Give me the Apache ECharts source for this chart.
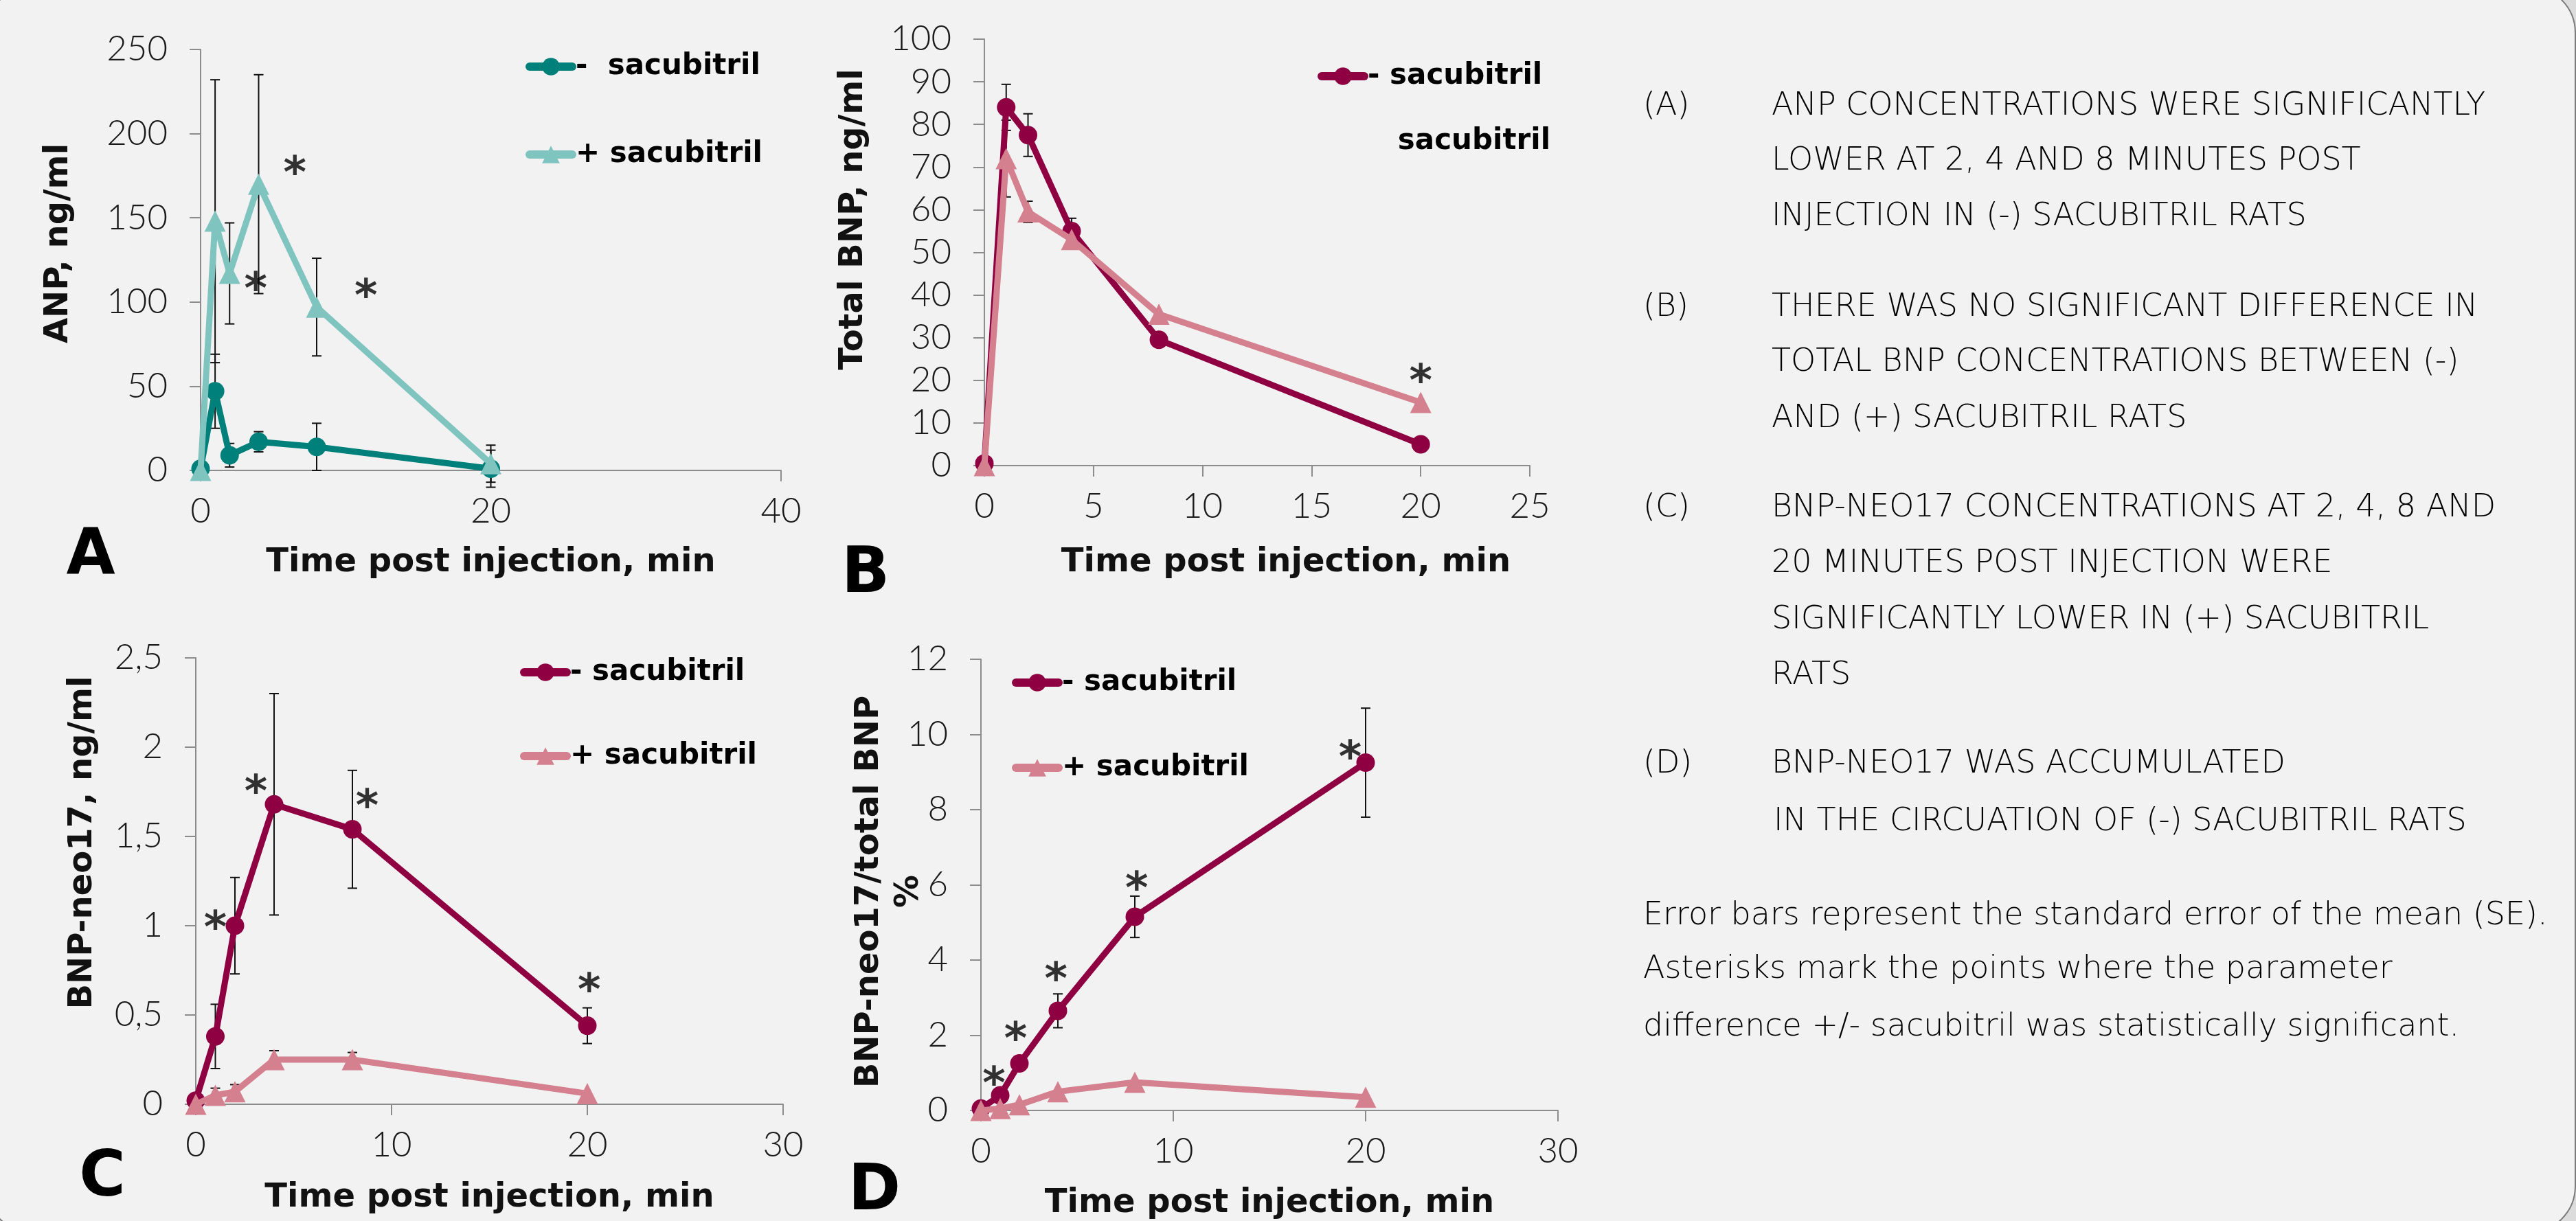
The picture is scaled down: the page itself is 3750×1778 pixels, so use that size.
<!DOCTYPE html>
<html>
<head>
<meta charset="utf-8">
<script src="https://cdn.jsdelivr.net/npm/echarts@6/dist/echarts.min.js"></script>
<style>
  html, body { margin: 0; padding: 0; background: #dcdcdc; }
  #main { width: 3750px; height: 1778px; }
</style>
</head>
<body>
<div id="main"></div>
<script>
// sampling times (min) shared by all four panels
const times = [0, 1, 2, 4, 8, 20];

// A: ANP, ng/ml
const anpMinus = [1, 47, 9, 17, 14, 1];
const anpMinusErr = [0, 22, 7, 6, 14, 11];
const anpPlus = [0, 148, 117, 170, 97, 4];
const anpPlusErr = [0, 84, 30, 65, 29, 11];
const anpStars = [[3.8, 112], [6.5, 181], [11.4, 108]];

// B: total BNP, ng/ml
const bnpMinus = [0.5, 84, 77.5, 55, 29.5, 5];
const bnpMinusErr = [0, 5.4, 5, 3, 0, 0];
const bnpPlus = [0, 72, 59.5, 53, 35.5, 14.8];
const bnpPlusErr = [0, 9, 2.5, 0, 0, 0];
const bnpStars = [[20, 21.5]];

// C: BNP-neo17, ng/ml
const neoMinus = [0.02, 0.38, 1.0, 1.68, 1.54, 0.44];
const neoMinusErr = [0, 0.18, 0.27, 0.62, 0.33, 0.1];
const neoPlus = [0, 0.05, 0.07, 0.25, 0.25, 0.06];
const neoPlusErr = [0, 0.04, 0.04, 0.05, 0.04, 0];
const neoStars = [[1.0, 1.03], [3.07, 1.79], [8.75, 1.71], [20.1, 0.68]];

// D: BNP-neo17 / total BNP, %
const ratioMinus = [0.05, 0.4, 1.25, 2.65, 5.15, 9.25];
const ratioMinusErr = [0, 0.1, 0.15, 0.45, 0.55, 1.45];
const ratioPlus = [0, 0.05, 0.15, 0.5, 0.75, 0.35];
const ratioPlusErr = [0, 0, 0, 0, 0, 0];
const ratioStars = [[0.68, 0.9], [1.8, 2.09], [3.9, 3.68], [8.1, 6.1], [19.2, 9.58]];

// axis ranges / ticks  [min, max, interval]
const xTicks = [[0, 40, 20], [0, 25, 5], [0, 30, 10], [0, 30, 10]];
const yTicks = [[0, 250, 50], [0, 100, 10], [0, 2.5, 0.5], [0, 12, 2]];

const TEAL = '#00807a', TEAL_LIGHT = '#80c4c0';
const WINE = '#8e0041', PINK = '#d4808f';
const LIGHT = 'Lato';
const BOLD = 'DejaVu Sans';

const pts = (ys) => times.map((t, i) => [t, ys[i]]);
const errPts = (ys, es) => times.map((t, i) => [t, ys[i], es[i]]);

function errorBar(params, api) {
  const x = api.value(0), y = api.value(1), e = api.value(2);
  if (!e) return null;
  const top = api.coord([x, y + e]);
  const bot = api.coord([x, y - e]);
  const hw = 7;
  const st = { stroke: '#111', lineWidth: 2 };
  return {
    type: 'group',
    children: [
      { type: 'line', shape: { x1: top[0], y1: top[1], x2: bot[0], y2: bot[1] }, style: st },
      { type: 'line', shape: { x1: top[0] - hw, y1: top[1], x2: top[0] + hw, y2: top[1] }, style: st },
      { type: 'line', shape: { x1: bot[0] - hw, y1: bot[1], x2: bot[0] + hw, y2: bot[1] }, style: st }
    ]
  };
}

const grids = [
  { left: 292, top: 72, width: 845, height: 613 },
  { left: 1433, top: 57, width: 794, height: 621 },
  { left: 285, top: 958, width: 855, height: 650 },
  { left: 1428, top: 960, width: 840, height: 661 }
];

const axisCol = '#8c8c8c';
const labelStyle = { fontFamily: LIGHT, fontWeight: 300, fontSize: 51, color: '#1a1a1a' };
const nameStyle = { fontFamily: BOLD, fontWeight: 'bold', fontSize: 48, color: '#111' };

const xName = 'Time post injection, min';
const xNameGap = [111, 118, 113, 112];
const xNamePad = [0, 84, 0, 0];

const yNames = ['ANP, ng/ml', 'Total BNP, ng/ml', 'BNP-neo17, ng/ml', 'BNP-neo17/total BNP'];
const yNameGap = [182, 166, 140, 138];
const yNamePad = [[0, 0, 0, 48], [0, 0, 0, 96], [0, 0, 0, 112], [0, 20, 0, 0]];

const xAxis = grids.map((g, i) => ({
  type: 'value', gridIndex: i,
  min: xTicks[i][0], max: xTicks[i][1], interval: xTicks[i][2],
  name: xName, nameLocation: 'middle', nameGap: xNameGap[i],
  nameTextStyle: Object.assign({ padding: [0, 0, 0, xNamePad[i]] }, nameStyle),
  axisLine: { lineStyle: { color: axisCol, width: 2 } },
  axisTick: { length: 16, lineStyle: { color: axisCol, width: 2 } },
  splitLine: { show: false },
  axisLabel: Object.assign({ margin: 34 }, labelStyle)
}));

const yAxis = grids.map((g, i) => ({
  type: 'value', gridIndex: i,
  min: yTicks[i][0], max: yTicks[i][1], interval: yTicks[i][2],
  name: yNames[i], nameLocation: 'middle', nameGap: yNameGap[i],
  nameTextStyle: Object.assign({ padding: yNamePad[i] }, nameStyle),
  axisLine: { show: true, lineStyle: { color: axisCol, width: 2 } },
  axisTick: { show: true, length: 16, lineStyle: { color: axisCol, width: 2 } },
  splitLine: { show: false },
  axisLabel: Object.assign({
    margin: 48,
    formatter: (v) => String(v).replace('.', ',')
  }, labelStyle)
}));

// one panel = two line series, their error bars and the asterisks
const panels = [
  { key: 'A', minus: anpMinus, minusErr: anpMinusErr, plus: anpPlus, plusErr: anpPlusErr, stars: anpStars, c1: TEAL, c2: TEAL_LIGHT },
  { key: 'B', minus: bnpMinus, minusErr: bnpMinusErr, plus: bnpPlus, plusErr: bnpPlusErr, stars: bnpStars, c1: WINE, c2: PINK },
  { key: 'C', minus: neoMinus, minusErr: neoMinusErr, plus: neoPlus, plusErr: neoPlusErr, stars: neoStars, c1: WINE, c2: PINK },
  { key: 'D', minus: ratioMinus, minusErr: ratioMinusErr, plus: ratioPlus, plusErr: ratioPlusErr, stars: ratioStars, c1: WINE, c2: PINK }
];

const legendText = {
  'A:-': '-  sacubitril', 'A:+': '+ sacubitril',
  'B:-': '- sacubitril', 'B:+': '   sacubitril',
  'C:-': '- sacubitril', 'C:+': '+ sacubitril',
  'D:-': '- sacubitril', 'D:+': '+ sacubitril'
};

const series = [];
panels.forEach((p, i) => {
  series.push({
    type: 'custom', name: p.key + ':err-', xAxisIndex: i, yAxisIndex: i, z: 1,
    renderItem: errorBar, data: errPts(p.minus, p.minusErr), silent: true
  });
  series.push({
    type: 'custom', name: p.key + ':err+', xAxisIndex: i, yAxisIndex: i, z: 1,
    renderItem: errorBar, data: errPts(p.plus, p.plusErr), silent: true
  });
  series.push({
    type: 'line', name: p.key + ':-', xAxisIndex: i, yAxisIndex: i, z: 3,
    data: pts(p.minus), symbol: 'circle', symbolSize: 27,
    lineStyle: { color: p.c1, width: 9 }, itemStyle: { color: p.c1 }
  });
  series.push({
    type: 'line', name: p.key + ':+', xAxisIndex: i, yAxisIndex: i, z: 4,
    data: pts(p.plus), symbol: 'triangle', symbolSize: 31,
    lineStyle: { color: p.c2, width: 9 }, itemStyle: { color: p.c2 }
  });
  series.push({
    type: 'scatter', name: p.key + ':stars', xAxisIndex: i, yAxisIndex: i, z: 5,
    data: p.stars, symbol: 'circle', symbolSize: 1, itemStyle: { color: 'rgba(0,0,0,0)' },
    label: {
      show: true, position: 'inside', formatter: '*', offset: [0, 15],
      fontFamily: BOLD, fontWeight: 'bold', fontSize: 64, color: '#000'
    }
  });
});

const legendPos = [
  { left: 765, top: 76, itemGap: 86 },
  { left: 1918, top: 90, itemGap: 53 },
  { left: 757, top: 958, itemGap: 80 },
  { left: 1473, top: 973, itemGap: 82 }
];

const legend = panels.map((p, i) => ({
  orient: 'vertical', left: legendPos[i].left, top: legendPos[i].top,
  itemGap: legendPos[i].itemGap, padding: 0,
  itemWidth: 62, itemHeight: 32, selectedMode: false,
  lineStyle: { width: 12, cap: 'round' },
  data: [
    { name: p.key + ':-' },
    p.key === 'B' ? { name: 'B:+', icon: 'none' } : { name: p.key + ':+' }
  ],
  formatter: (n) => legendText[n],
  textStyle: { fontFamily: BOLD, fontWeight: 'bold', fontSize: 42, lineHeight: 32, color: '#000' }
}));

const letters = [['A', 132, 811], ['B', 1260, 838], ['C', 149, 1717], ['D', 1273, 1737]];

const notes = [
  ['(A)', 2392, 155], ['ANP CONCENTRATIONS WERE SIGNIFICANTLY', 2579, 155],
  ['LOWER AT 2, 4 AND 8 MINUTES POST', 2579, 235],
  ['INJECTION IN (-) SACUBITRIL RATS', 2579, 316],
  ['(B)', 2392, 448], ['THERE WAS NO SIGNIFICANT DIFFERENCE IN', 2579, 448],
  ['TOTAL BNP CONCENTRATIONS BETWEEN (-)', 2579, 528],
  ['AND (+) SACUBITRIL RATS', 2579, 610],
  ['(C)', 2392, 740], ['BNP-NEO17 CONCENTRATIONS AT 2, 4, 8 AND', 2579, 740],
  ['20 MINUTES POST INJECTION WERE', 2579, 821],
  ['SIGNIFICANTLY LOWER IN (+) SACUBITRIL', 2579, 903],
  ['RATS', 2579, 984],
  ['(D)', 2392, 1113], ['BNP-NEO17 WAS ACCUMULATED', 2579, 1113],
  ['IN THE CIRCUATION OF (-) SACUBITRIL RATS', 2582, 1197],
  ['Error bars represent the standard error of the mean (SE).', 2392, 1334],
  ['Asterisks mark the points where the parameter', 2392, 1412],
  ['difference +/- sacubitril was statistically significant.', 2392, 1496]
];

const graphic = [
  {
    type: 'rect', z: -100, silent: true,
    shape: { x: -20, y: -20, width: 3769, height: 1815, r: 68 },
    style: { fill: '#f2f2f2', stroke: '#7a7a7a', lineWidth: 2 }
  },
  {
    // second line of the D y-axis title
    type: 'text', x: 1324, y: 1298, rotation: Math.PI / 2, silent: true,
    style: {
      text: '%', fill: '#111', textAlign: 'center', textVerticalAlign: 'middle',
      font: 'bold 48px "' + BOLD + '"'
    }
  }
].concat(letters.map((l) => ({
  type: 'text', x: l[1], y: l[2], silent: true,
  style: {
    text: l[0], fill: '#000', textAlign: 'center', textVerticalAlign: 'middle',
    font: 'bold 92px "' + BOLD + '"'
  }
}))).concat(notes.map((n) => ({
  type: 'text', x: n[1], y: n[2], silent: true,
  style: {
    text: n[0], fill: '#000', textAlign: 'left', textVerticalAlign: 'middle',
    font: '200 46px "' + BOLD + '"'
  }
})));

const chart = echarts.init(document.getElementById('main'), null, { renderer: 'canvas' });
chart.setOption({
  backgroundColor: 'transparent',
  animation: false,
  grid: grids,
  xAxis: xAxis,
  yAxis: yAxis,
  legend: legend,
  series: series,
  graphic: graphic
});
</script>
</body>
</html>
